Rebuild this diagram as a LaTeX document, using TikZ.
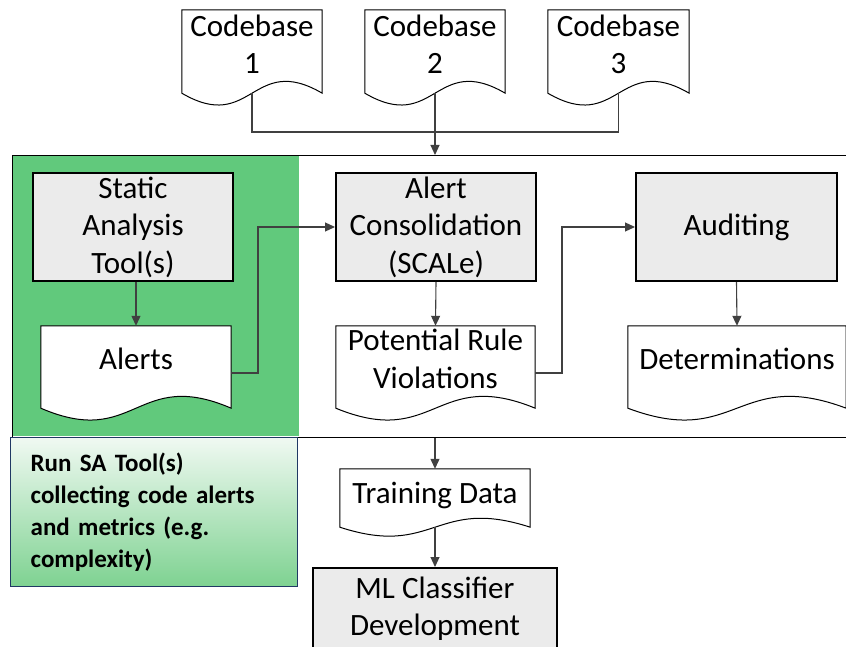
\documentclass[tikz,border=0pt]{standalone}
\usepackage{fontspec}
\setmainfont{Carlito}
\usetikzlibrary{arrows.meta,calc}
\pgfdeclarelayer{back}\pgfdeclarelayer{mid}
\pgfsetlayers{back,mid,main}
\definecolor{sagreen}{HTML}{61C97C}
\definecolor{boxgray}{HTML}{EBEBEB}
\definecolor{notetop}{HTML}{F0F9F2}
\definecolor{notebot}{HTML}{7ED291}
\definecolor{navy}{HTML}{203864}
\definecolor{connc}{HTML}{404040}
\newcommand\bigtxt{\fontsize{31}{37.5}\selectfont}
\newcommand\notetxt{\fontsize{25}{32}\selectfont\bfseries}
\newcommand\lift[2]{\raisebox{#1}[\height][\depth]{\begin{tabular}{@{}c@{}}#2\end{tabular}}}
\tikzset{
 procbox/.style={draw=black, line width=2pt, fill=boxgray, inner sep=0pt, align=center, font=\bigtxt},
 docnode/.style={inner sep=0pt, font=\bigtxt},
 docline/.style={draw=black, line width=1pt, fill=white},
 conn/.style={draw=connc, line width=1.1pt},
 arr/.style={conn, -{Triangle[length=10pt,width=9pt]}},
}
\newcommand\wavedoc[2]{%
 \begin{pgfonlayer}{mid}
 \draw[docline] (#1.south west) -- (#1.north west) -- (#1.north east) -- (#1.south east)
   .. controls ($(#1.south)+(0,-#2)$) and ($(#1.south)+(0,#2)$) .. (#1.south west) -- cycle;
 \end{pgfonlayer}}
\begin{document}
\begin{tikzpicture}[x=1pt,y=-1pt]
\useasboundingbox (0,0) rectangle (846,647);
% green area
\begin{pgfonlayer}{back}
\fill[sagreen] (12,155) rectangle (299,436);
\end{pgfonlayer}
% frame
\node[draw=black, line width=1.3pt, minimum width=848, minimum height=282, inner sep=0pt, anchor=north west] (frame) at (12,155) {};
% codebases
\node[docnode, minimum width=140, minimum height=83] (cb1) at (252,51.5) {\lift{4pt}{Codebase\\1}};
\node[docnode, minimum width=140, minimum height=83] (cb2) at (435,51.5) {\lift{4pt}{Codebase\\2}};
\node[docnode, minimum width=141, minimum height=83] (cb3) at (618.5,51.5) {\lift{4pt}{Codebase\\3}};
\wavedoc{cb1}{41}
\wavedoc{cb2}{41}
\wavedoc{cb3}{41}
% process boxes
\node[procbox, minimum width=200, minimum height=108] (sat) at (133,227) {Static\\Analysis\\Tool(s)};
\node[procbox, minimum width=200, minimum height=108] (acons) at (436,227) {Alert\\Consolidation\\(SCALe)};
\node[procbox, minimum width=201, minimum height=108] (aud) at (736.5,227) {Auditing};
% documents
\node[docnode, minimum width=190, minimum height=82] (alerts) at (136,367) {\lift{5pt}{Alerts}};
\node[docnode, minimum width=199, minimum height=82] (prv) at (435.5,367) {\lift{5pt}{Potential Rule\\Violations}};
\node[docnode, minimum width=218, minimum height=82] (det) at (737,367) {\lift{5pt}{Determinations}};
\wavedoc{alerts}{41}
\wavedoc{prv}{41}
\wavedoc{det}{41}
\node[docnode, minimum width=190, minimum height=58] (tdata) at (435,498) {\lift{2pt}{Training Data}};
\wavedoc{tdata}{31}
\node[procbox, minimum width=244, minimum height=81] (ml) at (435,608.5) {ML Classifier\\Development};
% note
\node[draw=navy, line width=1.3pt, top color=notetop, bottom color=notebot, minimum width=287, minimum height=149,
 inner xsep=20pt, inner ysep=0pt, text width=247, align=left, font=\notetxt, anchor=north west] (note) at (10,437)
 {Run SA Tool(s)\\collecting code alerts\\and metrics (e.g.\\complexity)};
% connectors
\coordinate (j) at (435,132);
\draw[conn] (cb1.south) |- (j) -| (cb3.south);
\draw[arr] (cb2.south) -- (cb2.south |- frame.north);
\draw[arr] (alerts.north |- sat.south) -- (alerts.north);
\coordinate (k1) at (258,0);
\draw[arr] ($(alerts.east)+(0,6)$) -| (k1 |- acons.west) -- (acons.west);
\draw[arr] (acons.south) -- (prv.north);
\coordinate (k2) at (562,0);
\draw[arr] ($(prv.east)+(0,6)$) -| (k2 |- aud.west) -- (aud.west);
\draw[arr] (aud.south) -- (det.north);
\draw[arr] (tdata.north |- frame.south) -- (tdata.north);
\draw[arr] (tdata.south) -- (ml.north);
\end{tikzpicture}
\end{document}
